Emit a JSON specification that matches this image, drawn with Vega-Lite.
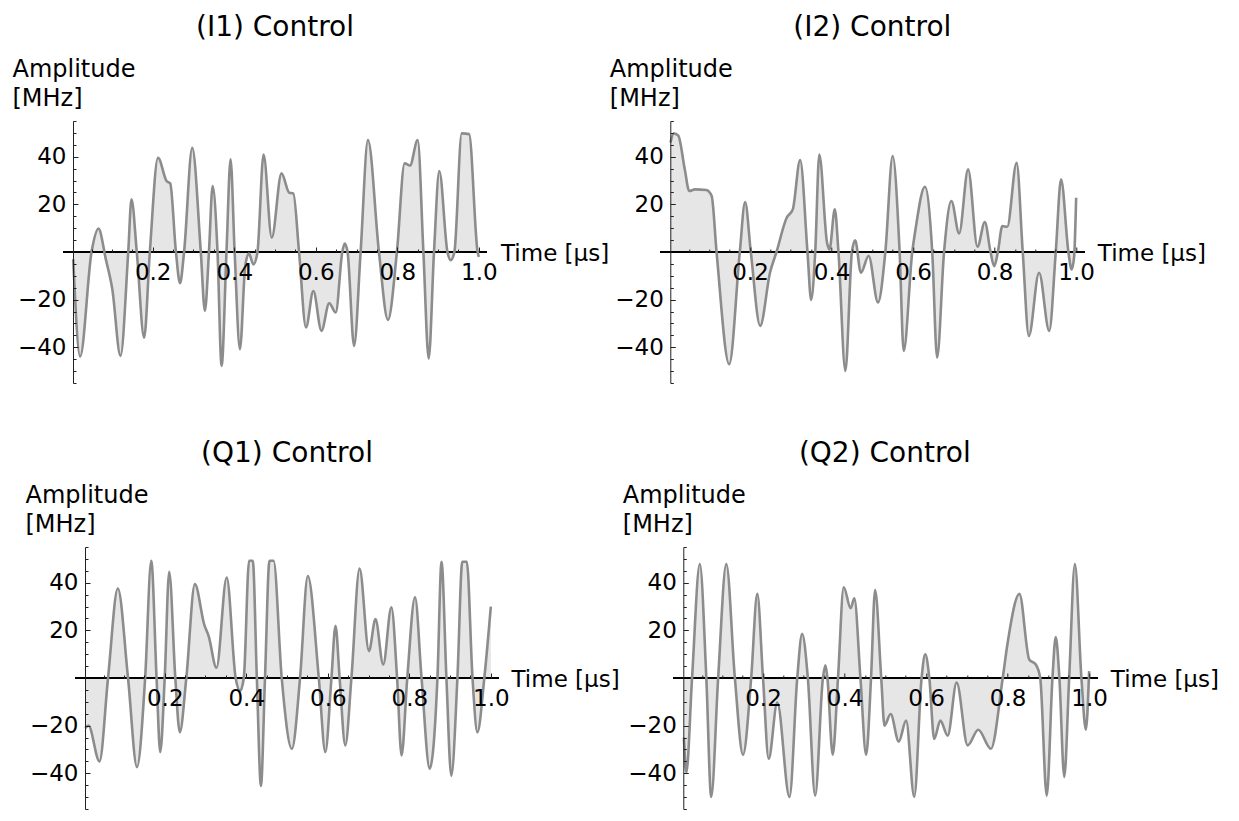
{
  "$schema": "https://vega.github.io/schema/vega-lite/v6.json",
  "background": "white",
  "padding": {"left": 12, "top": 14, "right": 5, "bottom": 5},
  "config": {
    "font": "DejaVu Sans",
    "view": {"stroke": null},
    "axis": {"grid": false, "zindex": 1, "labelColor": "black", "titleColor": "black", "titleFontWeight": "normal", "tickColor": "#222", "domainColor": "#222", "labelFlush": false, "labelOverlap": false},
    "title": {"fontSize": 28, "fontWeight": "normal", "color": "black", "anchor": "middle", "frame": "group", "baseline": "alphabetic", "offset": 15}
  },
  "datasets": {
    "I1": [
      {"t":0.005,"a":-3},{"t":0.022,"a":-43.9},{"t":0.05,"a":0},{"t":0.067,"a":9.8},{"t":0.085,"a":-3},{"t":0.101,"a":-15.7},{"t":0.121,"a":-43.6},{"t":0.14,"a":0},{"t":0.148,"a":22.1},{"t":0.161,"a":0},{"t":0.179,"a":-35.9},{"t":0.193,"a":0},{"t":0.213,"a":39.6},{"t":0.234,"a":29.8},{"t":0.243,"a":28.8},{"t":0.257,"a":0},{"t":0.267,"a":-13.1},{"t":0.277,"a":0},{"t":0.297,"a":43.7},{"t":0.318,"a":0},{"t":0.328,"a":-24.7},{"t":0.338,"a":0},{"t":0.347,"a":27.7},{"t":0.359,"a":0},{"t":0.369,"a":-47.8},{"t":0.381,"a":0},{"t":0.391,"a":38.9},{"t":0.401,"a":0},{"t":0.414,"a":-40.8},{"t":0.427,"a":-5.9},{"t":0.436,"a":-0.6},{"t":0.447,"a":-5.2},{"t":0.457,"a":0},{"t":0.472,"a":40.9},{"t":0.492,"a":6.0},{"t":0.516,"a":33.0},{"t":0.535,"a":24.9},{"t":0.545,"a":24.6},{"t":0.559,"a":0},{"t":0.576,"a":-31.7},{"t":0.594,"a":-16.4},{"t":0.614,"a":-33.1},{"t":0.633,"a":-21.5},{"t":0.649,"a":-25.4},{"t":0.665,"a":0},{"t":0.671,"a":3.6},{"t":0.678,"a":0},{"t":0.694,"a":-39.4},{"t":0.71,"a":0},{"t":0.728,"a":47.0},{"t":0.755,"a":0},{"t":0.777,"a":-28.5},{"t":0.799,"a":0},{"t":0.818,"a":37.2},{"t":0.831,"a":36.3},{"t":0.85,"a":47.0},{"t":0.864,"a":0},{"t":0.877,"a":-44.7},{"t":0.89,"a":0},{"t":0.903,"a":34.0},{"t":0.923,"a":0},{"t":0.931,"a":-3.4},{"t":0.94,"a":0},{"t":0.958,"a":49.8},{"t":0.976,"a":49.5},{"t":0.997,"a":0},{"t":1.0,"a":-2}
    ],
    "I2": [
      {"t":0.005,"a":46},{"t":0.013,"a":49.8},{"t":0.024,"a":48.9},{"t":0.04,"a":34.7},{"t":0.051,"a":25.6},{"t":0.065,"a":26.3},{"t":0.093,"a":26.0},{"t":0.106,"a":23.5},{"t":0.118,"a":0},{"t":0.149,"a":-47.1},{"t":0.175,"a":0},{"t":0.188,"a":21.0},{"t":0.202,"a":0},{"t":0.225,"a":-31.0},{"t":0.249,"a":-8.7},{"t":0.265,"a":0},{"t":0.29,"a":14.4},{"t":0.305,"a":17.9},{"t":0.323,"a":38.6},{"t":0.341,"a":0},{"t":0.35,"a":-20.1},{"t":0.36,"a":0},{"t":0.37,"a":40.9},{"t":0.389,"a":3.9},{"t":0.395,"a":1.1},{"t":0.408,"a":17.9},{"t":0.417,"a":0},{"t":0.434,"a":-49.9},{"t":0.45,"a":0},{"t":0.458,"a":4.9},{"t":0.472,"a":-8.7},{"t":0.491,"a":-1.7},{"t":0.514,"a":-21.2},{"t":0.532,"a":0},{"t":0.55,"a":40.3},{"t":0.567,"a":0},{"t":0.577,"a":-41.5},{"t":0.598,"a":0},{"t":0.606,"a":9.5},{"t":0.629,"a":27.4},{"t":0.647,"a":0},{"t":0.659,"a":-44.3},{"t":0.676,"a":0},{"t":0.694,"a":21.4},{"t":0.713,"a":7.8},{"t":0.735,"a":34.7},{"t":0.758,"a":2.2},{"t":0.776,"a":12.6},{"t":0.79,"a":0},{"t":0.799,"a":-6},{"t":0.808,"a":0},{"t":0.819,"a":10.9},{"t":0.831,"a":10.6},{"t":0.854,"a":37.5},{"t":0.869,"a":0},{"t":0.884,"a":-35.2},{"t":0.909,"a":-8.7},{"t":0.934,"a":-33.1},{"t":0.95,"a":0},{"t":0.963,"a":30.5},{"t":0.981,"a":0},{"t":0.989,"a":-7.3},{"t":0.995,"a":-2},{"t":1.0,"a":22.8}
    ],
    "Q1": [
      {"t":0.005,"a":-21},{"t":0.013,"a":-20},{"t":0.04,"a":-35.0},{"t":0.061,"a":0},{"t":0.085,"a":37.6},{"t":0.11,"a":0},{"t":0.132,"a":-37.4},{"t":0.152,"a":0},{"t":0.167,"a":49.2},{"t":0.18,"a":0},{"t":0.189,"a":-31.1},{"t":0.2,"a":0},{"t":0.211,"a":44.6},{"t":0.226,"a":0},{"t":0.237,"a":-22.8},{"t":0.253,"a":0},{"t":0.274,"a":39.4},{"t":0.297,"a":22.4},{"t":0.308,"a":17.5},{"t":0.327,"a":4.3},{"t":0.352,"a":42.2},{"t":0.374,"a":0},{"t":0.385,"a":-5.4},{"t":0.394,"a":0},{"t":0.407,"a":49.2},{"t":0.416,"a":49.2},{"t":0.426,"a":0},{"t":0.436,"a":-45.3},{"t":0.446,"a":0},{"t":0.457,"a":49.2},{"t":0.467,"a":49.2},{"t":0.487,"a":0},{"t":0.512,"a":-29.7},{"t":0.532,"a":0},{"t":0.551,"a":42.8},{"t":0.578,"a":0},{"t":0.594,"a":-31.1},{"t":0.609,"a":0},{"t":0.619,"a":21.9},{"t":0.629,"a":0},{"t":0.643,"a":-28.3},{"t":0.658,"a":0},{"t":0.678,"a":46.0},{"t":0.701,"a":11.3},{"t":0.717,"a":24.7},{"t":0.736,"a":5.7},{"t":0.756,"a":29.7},{"t":0.77,"a":0},{"t":0.781,"a":-32.5},{"t":0.795,"a":0},{"t":0.814,"a":33.9},{"t":0.83,"a":0},{"t":0.85,"a":-38.1},{"t":0.869,"a":0},{"t":0.879,"a":48.8},{"t":0.891,"a":0},{"t":0.903,"a":-41.1},{"t":0.918,"a":0},{"t":0.93,"a":48.8},{"t":0.941,"a":48.8},{"t":0.955,"a":0},{"t":0.967,"a":-22.8},{"t":0.984,"a":0},{"t":1.0,"a":30.0}
    ],
    "Q2": [
      {"t":0.006,"a":-25},{"t":0.012,"a":-39.7},{"t":0.026,"a":0},{"t":0.045,"a":47.8},{"t":0.061,"a":0},{"t":0.073,"a":-49.9},{"t":0.09,"a":0},{"t":0.11,"a":47.8},{"t":0.131,"a":0},{"t":0.151,"a":-32.2},{"t":0.171,"a":0},{"t":0.186,"a":35.3},{"t":0.2,"a":0},{"t":0.214,"a":-33.9},{"t":0.235,"a":-10.3},{"t":0.265,"a":-49.9},{"t":0.284,"a":0},{"t":0.296,"a":18.6},{"t":0.31,"a":0},{"t":0.328,"a":-49.4},{"t":0.347,"a":0},{"t":0.353,"a":5.3},{"t":0.358,"a":0},{"t":0.371,"a":-32.2},{"t":0.384,"a":0},{"t":0.398,"a":38.1},{"t":0.415,"a":29.3},{"t":0.424,"a":33.5},{"t":0.439,"a":0},{"t":0.453,"a":-32.2},{"t":0.465,"a":0},{"t":0.475,"a":36.9},{"t":0.49,"a":0},{"t":0.498,"a":-20.0},{"t":0.513,"a":-15.1},{"t":0.533,"a":-26.7},{"t":0.551,"a":-17.9},{"t":0.571,"a":-49.9},{"t":0.589,"a":0},{"t":0.598,"a":9.9},{"t":0.608,"a":0},{"t":0.62,"a":-25.6},{"t":0.635,"a":-17.9},{"t":0.653,"a":-24.2},{"t":0.675,"a":-1.9},{"t":0.702,"a":-28.3},{"t":0.728,"a":-21.7},{"t":0.759,"a":-29.7},{"t":0.788,"a":0},{"t":0.8,"a":14.7},{"t":0.829,"a":35.3},{"t":0.853,"a":7.8},{"t":0.869,"a":5.7},{"t":0.88,"a":0},{"t":0.896,"a":-49.4},{"t":0.91,"a":0},{"t":0.918,"a":17.2},{"t":0.927,"a":0},{"t":0.939,"a":-41.5},{"t":0.951,"a":0},{"t":0.965,"a":47.8},{"t":0.981,"a":0},{"t":0.992,"a":-21.7},{"t":1.0,"a":2.9}
    ]
  },
  "bounds": "flush",
  "columns": 2,
  "spacing": {"row": 164, "column": 161.3},
  "concat": [
    {
      "width": 424, "height": 262,
      "data": {"name": "I1"},
      "title": {"text": "(I1) Control"},
      "resolve": {"axis": {"x": "independent", "y": "independent"}},
      "layer": [
        {"mark": {"type": "area", "interpolate": "monotone", "color": "#e6e6e6"},
         "encoding": {
           "x": {"field": "t", "type": "quantitative", "scale": {"domain": [-0.02, 1.02], "nice": false, "zero": false},
             "axis": {"orient": "bottom", "offset": -131, "zindex": 1, "domain": false, "values": [0.2,0.4,0.6,0.8,1.0], "format": ".1f", "tickSize": -5, "labelFontSize": 23, "labelPadding": 14.6, "title": "Time [μs]", "titleFontSize": 23, "titleAnchor": "start", "titleX": 437.5, "titleY": 8.6, "titleAlign": "left", "titleBaseline": "alphabetic"}},
           "y": {"field": "a", "type": "quantitative", "scale": {"domain": [-55, 55], "nice": false, "zero": false},
             "axis": {"orient": "left", "offset": -10, "zindex": 1, "values": [-40,-20,20,40], "format": "d", "tickSize": -5, "labelPadding": 12, "labelFontSize": 23, "title": ["Amplitude", "[MHz]"], "titleAngle": 0, "titleAlign": "left", "titleBaseline": "alphabetic", "titleX": -61, "titleY": -45, "titleFontSize": 24, "titleLineHeight": 29}},
           "y2": {"datum": 0}
         }},
        {"mark": {"type": "rule", "color": "black", "strokeWidth": 1.2},
         "encoding": {"x": {"datum": -0.02, "type": "quantitative", "axis": null}, "x2": {"datum": 1.02}, "y": {"datum": 0, "type": "quantitative", "axis": null}}},
        {"mark": {"type": "line", "interpolate": "monotone", "color": "#8c8c8c", "strokeWidth": 2.6},
         "encoding": {
           "x": {"field": "t", "type": "quantitative", "axis": {"orient": "bottom", "offset": -131, "zindex": 1, "domain": false, "labels": false, "title": null, "tickSize": -3, "values": [0.05,0.1,0.15,0.25,0.3,0.35,0.45,0.5,0.55,0.65,0.7,0.75,0.85,0.9,0.95]}},
           "y": {"field": "a", "type": "quantitative", "axis": {"orient": "left", "offset": -10, "zindex": 1, "domain": false, "labels": false, "title": null, "tickSize": -3, "values": [-55,-50,-45,-35,-30,-25,-15,-10,-5,5,10,15,25,30,35,45,50,55]}}}}
      ]
    },
    {
      "width": 424, "height": 262,
      "data": {"name": "I2"},
      "title": {"text": "(I2) Control"},
      "resolve": {"axis": {"x": "independent", "y": "independent"}},
      "layer": [
        {"mark": {"type": "area", "interpolate": "monotone", "color": "#e6e6e6"},
         "encoding": {
           "x": {"field": "t", "type": "quantitative", "scale": {"domain": [-0.02, 1.02], "nice": false, "zero": false},
             "axis": {"orient": "bottom", "offset": -131, "zindex": 1, "domain": false, "values": [0.2,0.4,0.6,0.8,1.0], "format": ".1f", "tickSize": -5, "labelFontSize": 23, "labelPadding": 14.6, "title": "Time [μs]", "titleFontSize": 23, "titleAnchor": "start", "titleX": 437, "titleY": 8.6, "titleAlign": "left", "titleBaseline": "alphabetic"}},
           "y": {"field": "a", "type": "quantitative", "scale": {"domain": [-55, 55], "nice": false, "zero": false},
             "axis": {"orient": "left", "offset": -10, "zindex": 1, "values": [-40,-20,20,40], "format": "d", "tickSize": -5, "labelPadding": 12, "labelFontSize": 23, "title": ["Amplitude", "[MHz]"], "titleAngle": 0, "titleAlign": "left", "titleBaseline": "alphabetic", "titleX": -61, "titleY": -45, "titleFontSize": 24, "titleLineHeight": 29}},
           "y2": {"datum": 0}
         }},
        {"mark": {"type": "rule", "color": "black", "strokeWidth": 1.2},
         "encoding": {"x": {"datum": -0.02, "type": "quantitative", "axis": null}, "x2": {"datum": 1.02}, "y": {"datum": 0, "type": "quantitative", "axis": null}}},
        {"mark": {"type": "line", "interpolate": "monotone", "color": "#8c8c8c", "strokeWidth": 2.6},
         "encoding": {
           "x": {"field": "t", "type": "quantitative", "axis": {"orient": "bottom", "offset": -131, "zindex": 1, "domain": false, "labels": false, "title": null, "tickSize": -3, "values": [0.05,0.1,0.15,0.25,0.3,0.35,0.45,0.5,0.55,0.65,0.7,0.75,0.85,0.9,0.95]}},
           "y": {"field": "a", "type": "quantitative", "axis": {"orient": "left", "offset": -10, "zindex": 1, "domain": false, "labels": false, "title": null, "tickSize": -3, "values": [-55,-50,-45,-35,-30,-25,-15,-10,-5,5,10,15,25,30,35,45,50,55]}}}}
      ]
    },
    {
      "width": 436, "height": 262,
      "data": {"name": "Q1"},
      "title": {"text": "(Q1) Control", "dx": 6},
      "resolve": {"axis": {"x": "independent", "y": "independent"}},
      "layer": [
        {"mark": {"type": "area", "interpolate": "monotone", "color": "#e6e6e6"},
         "encoding": {
           "x": {"field": "t", "type": "quantitative", "scale": {"domain": [-0.0495, 1.02], "nice": false, "zero": false},
             "axis": {"orient": "bottom", "offset": -131, "zindex": 1, "domain": false, "values": [0.2,0.4,0.6,0.8,1.0], "format": ".1f", "tickSize": -5, "labelFontSize": 23, "labelPadding": 14.6, "title": "Time [μs]", "titleFontSize": 23, "titleAnchor": "start", "titleX": 448, "titleY": 8.6, "titleAlign": "left", "titleBaseline": "alphabetic"}},
           "y": {"field": "a", "type": "quantitative", "scale": {"domain": [-55, 55], "nice": false, "zero": false},
             "axis": {"orient": "left", "offset": -22, "zindex": 1, "values": [-40,-20,20,40], "format": "d", "tickSize": -5, "labelPadding": 12, "labelFontSize": 23, "title": ["Amplitude", "[MHz]"], "titleAngle": 0, "titleAlign": "left", "titleBaseline": "alphabetic", "titleX": -60, "titleY": -45, "titleFontSize": 24, "titleLineHeight": 29}},
           "y2": {"datum": 0}
         }},
        {"mark": {"type": "rule", "color": "black", "strokeWidth": 1.2},
         "encoding": {"x": {"datum": -0.02, "type": "quantitative", "axis": null}, "x2": {"datum": 1.02}, "y": {"datum": 0, "type": "quantitative", "axis": null}}},
        {"mark": {"type": "line", "interpolate": "monotone", "color": "#8c8c8c", "strokeWidth": 2.6},
         "encoding": {
           "x": {"field": "t", "type": "quantitative", "axis": {"orient": "bottom", "offset": -131, "zindex": 1, "domain": false, "labels": false, "title": null, "tickSize": -3, "values": [0.05,0.1,0.15,0.25,0.3,0.35,0.45,0.5,0.55,0.65,0.7,0.75,0.85,0.9,0.95]}},
           "y": {"field": "a", "type": "quantitative", "axis": {"orient": "left", "offset": -22, "zindex": 1, "domain": false, "labels": false, "title": null, "tickSize": -3, "values": [-55,-50,-45,-35,-30,-25,-15,-10,-5,5,10,15,25,30,35,45,50,55]}}}}
      ]
    },
    {
      "width": 437, "height": 262,
      "data": {"name": "Q2"},
      "title": {"text": "(Q2) Control", "dx": 6},
      "resolve": {"axis": {"x": "independent", "y": "independent"}},
      "layer": [
        {"mark": {"type": "area", "interpolate": "monotone", "color": "#e6e6e6"},
         "encoding": {
           "x": {"field": "t", "type": "quantitative", "scale": {"domain": [-0.0519, 1.02], "nice": false, "zero": false},
             "axis": {"orient": "bottom", "offset": -131, "zindex": 1, "domain": false, "values": [0.2,0.4,0.6,0.8,1.0], "format": ".1f", "tickSize": -5, "labelFontSize": 23, "labelPadding": 14.6, "title": "Time [μs]", "titleFontSize": 23, "titleAnchor": "start", "titleX": 450, "titleY": 8.6, "titleAlign": "left", "titleBaseline": "alphabetic"}},
           "y": {"field": "a", "type": "quantitative", "scale": {"domain": [-55, 55], "nice": false, "zero": false},
             "axis": {"orient": "left", "offset": -23, "zindex": 1, "values": [-40,-20,20,40], "format": "d", "tickSize": -5, "labelPadding": 12, "labelFontSize": 23, "title": ["Amplitude", "[MHz]"], "titleAngle": 0, "titleAlign": "left", "titleBaseline": "alphabetic", "titleX": -61, "titleY": -45, "titleFontSize": 24, "titleLineHeight": 29}},
           "y2": {"datum": 0}
         }},
        {"mark": {"type": "rule", "color": "black", "strokeWidth": 1.2},
         "encoding": {"x": {"datum": -0.02, "type": "quantitative", "axis": null}, "x2": {"datum": 1.02}, "y": {"datum": 0, "type": "quantitative", "axis": null}}},
        {"mark": {"type": "line", "interpolate": "monotone", "color": "#8c8c8c", "strokeWidth": 2.6},
         "encoding": {
           "x": {"field": "t", "type": "quantitative", "axis": {"orient": "bottom", "offset": -131, "zindex": 1, "domain": false, "labels": false, "title": null, "tickSize": -3, "values": [0.05,0.1,0.15,0.25,0.3,0.35,0.45,0.5,0.55,0.65,0.7,0.75,0.85,0.9,0.95]}},
           "y": {"field": "a", "type": "quantitative", "axis": {"orient": "left", "offset": -23, "zindex": 1, "domain": false, "labels": false, "title": null, "tickSize": -3, "values": [-55,-50,-45,-35,-30,-25,-15,-10,-5,5,10,15,25,30,35,45,50,55]}}}}
      ]
    }
  ]
}
